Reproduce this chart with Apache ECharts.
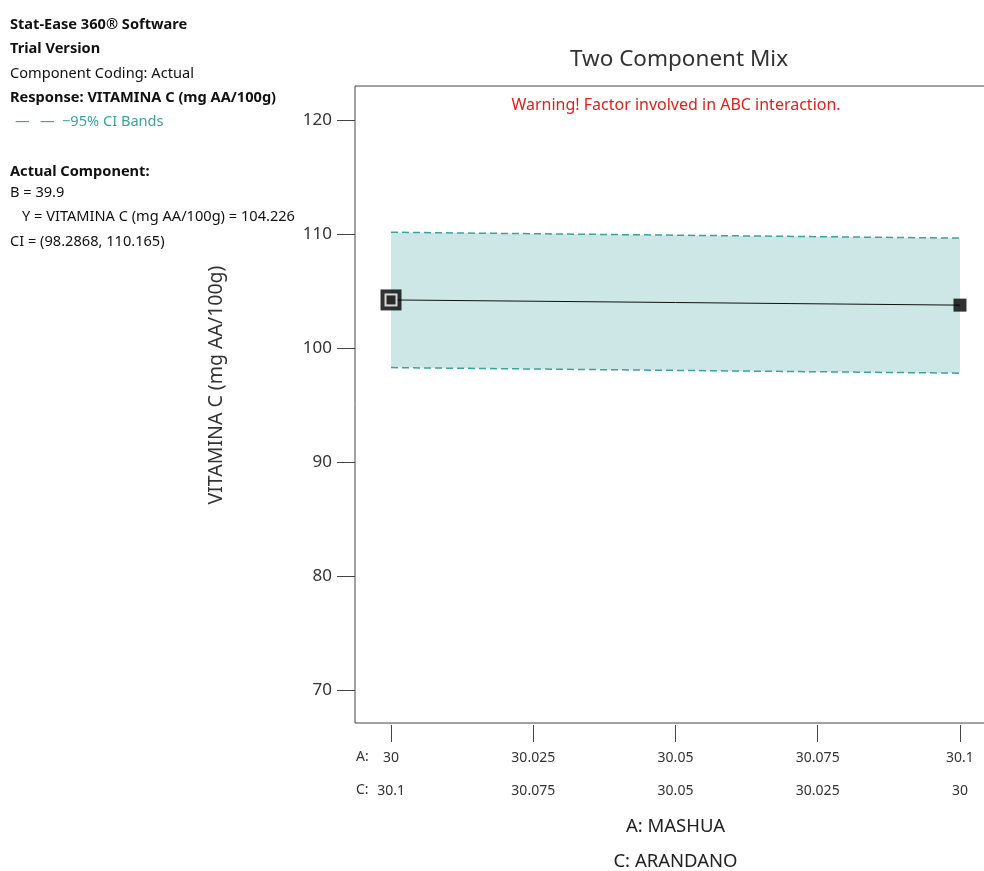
<!DOCTYPE html>
<html><head><meta charset="utf-8">
<script src="https://cdn.jsdelivr.net/npm/echarts@6/dist/echarts.min.js"></script>
<style>html,body{margin:0;padding:0;background:#fff}#c{width:984px;height:871px}</style>
</head><body><div id="c"></div>
<script>
// ---- data ----
const xA = [30, 30.1];                 // A: MASHUA (C = 60.1 - A)
const predicted = [104.226, 103.77];   // VITAMINA C prediction
const ciUpper = [110.165, 109.65];
const ciLower = [98.2868, 97.8];
const aTicks = [30, 30.025, 30.05, 30.075, 30.1];
const aTickLabels = ['30', '30.025', '30.05', '30.075', '30.1'];
const cTicks = [30.1, 30.075, 30.05, 30.025, 30];
const cTickLabels = ['30.1', '30.075', '30.05', '30.025', '30'];
const yTicks = [70, 80, 90, 100, 110, 120];
const infoLines = [
  ['Stat-Ease 360\u00AE Software', true],
  ['Trial Version', true],
  ['Component Coding: Actual', false],
  ['Response: VITAMINA C (mg AA/100g)', true]
];

const FONT = 'Noto Sans';
const xMin = 29.99367, xMax = 30.10633;
const teal = '#3aa3a0';
const chart = echarts.init(document.getElementById('c'), null, {renderer: 'canvas'});

const pairs = (ys) => xA.map((x, i) => [x, ys[i]]);

const option = {
  animation: false,
  textStyle: {fontFamily: FONT},
  grid: {left: 355, top: 86, width: 641, height: 637, show: true, borderColor: '#444', borderWidth: 1,
    backgroundColor: 'transparent', containLabel: false, outerBoundsMode: 'none'},
  xAxis: [
    {type: 'value', min: xMin, max: xMax, axisLine: {show: false}, axisTick: {show: false}, axisLabel: {show: false}, splitLine: {show: false}},
    {type: 'value', min: xMin, max: xMax, position: 'bottom', offset: 2,
      axisLine: {show: false}, splitLine: {show: false},
      axisTick: {show: true, length: 17, lineStyle: {color: '#444'}, customValues: aTicks},
      axisLabel: {show: true, customValues: aTicks, margin: 26, fontSize: 14, color: '#333',
        formatter: (v) => aTickLabels[aTicks.indexOf(v)]},
      name: 'A: MASHUA', nameLocation: 'middle', nameGap: 92,
      nameTextStyle: {fontSize: 18.5, color: '#222', fontFamily: FONT}},
    {type: 'value', min: xMin, max: xMax, inverse: true, position: 'bottom', offset: 2,
      axisLine: {show: false}, splitLine: {show: false}, axisTick: {show: false},
      axisLabel: {show: true, customValues: cTicks, margin: 59, fontSize: 14, color: '#333',
        formatter: (v) => cTickLabels[cTicks.indexOf(v)]},
      name: 'C: ARANDANO', nameLocation: 'middle', nameGap: 127,
      nameTextStyle: {fontSize: 18.5, color: '#222', fontFamily: FONT}}
  ],
  yAxis: {type: 'value', min: 67.1, max: 123, splitLine: {show: false}, axisLine: {show: false},
    axisTick: {show: true, length: 18, customValues: yTicks, lineStyle: {color: '#444'}},
    axisLabel: {customValues: yTicks, margin: 23, fontSize: 17, color: '#333'}},
  graphic: [
    {type: 'text', x: 679, y: 60, style: {text: 'Two Component Mix', font: '22.5px ' + FONT, fill: '#333', align: 'center', verticalAlign: 'middle'}},
    ...infoLines.map((l, i) => ({type: 'text', left: 10, top: 17 + i * 24.5,
      style: {text: l[0], font: (l[1] ? 'bold ' : '') + '14.6px ' + FONT, fill: '#111'}})),
    {type: 'text', left: 15, top: 114, style: {text: '\u2014', font: '14.6px ' + FONT, fill: teal}},
    {type: 'text', left: 40, top: 114, style: {text: '\u2014', font: '14.6px ' + FONT, fill: teal}},
    {type: 'text', left: 62, top: 114, style: {text: '\u221295% CI Bands', font: '14.6px ' + FONT, fill: teal}},
    {type: 'text', left: 10, top: 164, style: {text: 'Actual Component:', font: 'bold 14.6px ' + FONT, fill: '#111'}},
    {type: 'text', left: 10, top: 185, style: {text: 'B = 39.9', font: '14.6px ' + FONT, fill: '#111'}},
    {type: 'text', left: 22, top: 209, style: {text: 'Y = VITAMINA C (mg AA/100g) = 104.226', font: '14.6px ' + FONT, fill: '#111'}},
    {type: 'text', left: 10, top: 234, style: {text: 'CI = (98.2868, 110.165)', font: '14.6px ' + FONT, fill: '#111'}},
    {type: 'text', x: 676, y: 105, style: {text: 'Warning! Factor involved in ABC interaction.', font: '16px ' + FONT, fill: '#e0201b', align: 'center', verticalAlign: 'middle'}},
    {type: 'text', x: 356, y: 757, style: {text: 'A:', font: '14px ' + FONT, fill: '#333', align: 'left', verticalAlign: 'middle'}},
    {type: 'text', x: 356, y: 790, style: {text: 'C:', font: '14px ' + FONT, fill: '#333', align: 'left', verticalAlign: 'middle'}},
    {type: 'text', x: 216, y: 385, rotation: Math.PI / 2, style: {text: 'VITAMINA C (mg AA/100g)', font: '19.5px ' + FONT, fill: '#333', align: 'center', verticalAlign: 'middle'}}
  ],
  series: [
    {type: 'custom', xAxisIndex: 0, yAxisIndex: 0, silent: true, z: 1,
      data: xA.map((x, i) => [x, ciUpper[i], ciLower[i]]),
      renderItem: (params, api) => {
        if (params.dataIndex !== 0) return null;
        const pts = xA.map((x, i) => api.coord([x, ciUpper[i]]))
          .concat(xA.slice().reverse().map((x, j) => api.coord([x, ciLower[xA.length - 1 - j]])));
        return {type: 'polygon', shape: {points: pts}, style: {fill: '#cde6e6'}};
      }},
    {type: 'line', data: pairs(ciUpper), symbol: 'none', z: 2, lineStyle: {color: teal, width: 1.5, type: [7, 4]}},
    {type: 'line', data: pairs(ciLower), symbol: 'none', z: 2, lineStyle: {color: teal, width: 1.5, type: [7, 4]}},
    {type: 'line', data: pairs(predicted), symbol: 'none', z: 3, lineStyle: {color: '#111', width: 1}},
    {type: 'scatter', data: [pairs(predicted)[1]], symbol: 'rect', symbolSize: 13, z: 4, itemStyle: {color: '#000'}},
    {type: 'scatter', data: [pairs(predicted)[0]], symbol: 'rect', symbolSize: 21, z: 4, itemStyle: {color: '#000'}},
    {type: 'scatter', data: [pairs(predicted)[0]], symbol: 'rect', symbolSize: 13, z: 5, itemStyle: {color: '#fff'}},
    {type: 'scatter', data: [pairs(predicted)[0]], symbol: 'rect', symbolSize: 9, z: 6, itemStyle: {color: '#000'}}
  ]
};
chart.setOption(option);
</script></body></html>
